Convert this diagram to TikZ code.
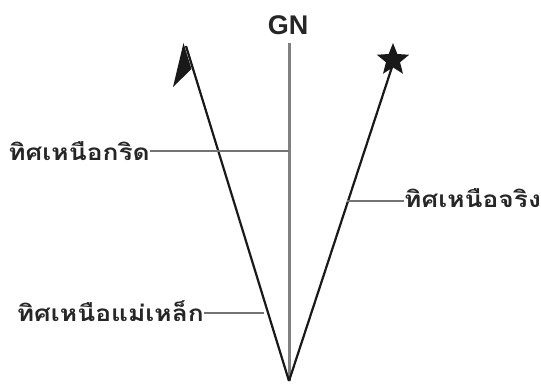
\documentclass[tikz,border=0pt]{standalone}
\usepackage{fontspec}
\newfontfamily\thaifont[Script=Thai]{Loma}
\setsansfont{Liberation Sans}
\usetikzlibrary{shapes.geometric}
\begin{document}
\begin{tikzpicture}[x=1pt,y=-1pt,
  mainline/.style={line width=2.2pt,black!90},
  gnline/.style={line width=3pt,black!50},
  leader/.style={line width=1.5pt,black!55},
  thlabel/.style={inner sep=0pt,xscale=1.17,font=\thaifont\bfseries\fontsize{22.5}{24}\selectfont,text=black!85}]
\useasboundingbox (0,0) rectangle (541,385);
\coordinate (O) at (289,381);
\coordinate (MN) at (186,46);
\coordinate (TN) at (393,64);
\coordinate (GNt) at (289,43);
\node[inner sep=0pt,font=\sffamily\bfseries\fontsize{27}{30}\selectfont,text=black!85] (gn) at (288,25) {GN};
% grid north
\draw[gnline] (O) -- (GNt);
% magnetic north
\draw[mainline] (O) -- (MN);
\fill[black!90] (183.5,43) -- (173,87) -- (191.5,69) -- cycle;
% true north
\draw[mainline] (O) -- (TN);
\node[star,star points=5,star point ratio=2.3,fill=black!90,inner sep=0pt,minimum size=34pt] (st) at (393,60) {};
% labels
\node[thlabel,anchor=east] (lg) at (150,151) {ทิศเหนือกริด};
\coordinate (pg) at (289,151);
\draw[leader] (lg.east) -- (pg);
\node[thlabel,anchor=west] (lt) at (404,198) {ทิศเหนือจริง};
\coordinate (pt) at (347,201);
\draw[leader] (pt) -- (lt.west |- pt);
\node[thlabel,anchor=east] (lm) at (204,311) {ทิศเหนือแม่เหล็ก};
\coordinate (pm) at (264,313);
\draw[leader] (lm.east |- pm) -- (pm);
\end{tikzpicture}
\end{document}
